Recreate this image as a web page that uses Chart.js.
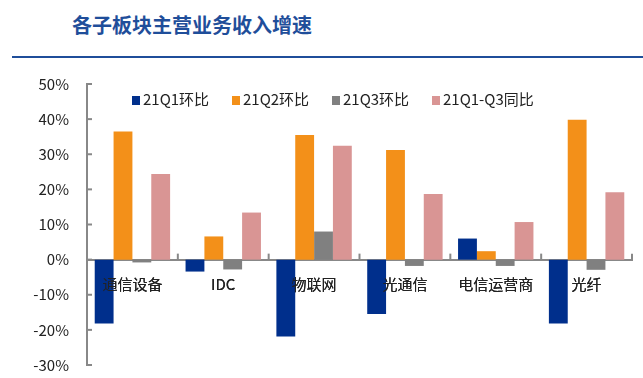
<!DOCTYPE html>
<html lang="zh">
<head>
<meta charset="UTF-8" />
<title>各子板块主营业务收入增速</title>
<script src="https://cdn.jsdelivr.net/npm/chart.js"></script>
<style>
  body { margin: 0; background: #fff; font-family: "Noto Sans CJK SC", sans-serif; }
  .wrap { position: relative; width: 643px; height: 378px; overflow: hidden; }
  .title {
    position: absolute; left: 72px; top: 10px;
    font-size: 20px; font-weight: bold; color: #1f4e9a;
  }
  .rule { position: absolute; left: 12px; right: 0; top: 56px; height: 2px; background: #1f4e9a; }
  canvas { position: absolute; left: 0; top: 0; }
  .legend { position: absolute; top: 88px; left: 0; font-size: 15px; color: #222; }
  .legend span.item { position: absolute; white-space: nowrap; }
  .legend i { display: inline-block; width: 8px; height: 9px; margin-right: 3px; vertical-align: 0px; }
</style>
</head>
<body>
<div class="wrap">
  <div class="title">各子板块主营业务收入增速</div>
  <div class="rule"></div>
  <canvas id="growthChart" width="643" height="392"></canvas>
  <div class="legend" id="legend"></div>
</div>

<script>
  const categories = ['通信设备', 'IDC', '物联网', '光通信', '电信运营商', '光纤'];
  const q1Qoq = [-18.2, -3.4, -21.9, -15.5, 6.0, -18.2];
  const q2Qoq = [36.5, 6.6, 35.5, 31.2, 2.4, 39.8];
  const q3Qoq = [-0.8, -2.8, 8.0, -1.8, -1.8, -2.9];
  const q1q3Yoy = [24.4, 13.4, 32.4, 18.7, 10.7, 19.2];
  const seriesNames = ['21Q1环比', '21Q2环比', '21Q3环比', '21Q1-Q3同比'];
  const seriesColors = ['#002f8c', '#f39019', '#808080', '#d99594'];
  const legendLeft = [132, 232, 332, 432];

  // legend as html, sits inside the plot like the original
  const legendEl = document.getElementById('legend');
  seriesNames.forEach((name, i) => {
    const s = document.createElement('span');
    s.className = 'item';
    s.style.left = legendLeft[i] + 'px';
    s.innerHTML = '<i style="background:' + seriesColors[i] + '"></i>' + name;
    legendEl.appendChild(s);
  });

  // category labels go on top of the bars, plus short inward tick marks
  const axisOnTop = {
    id: 'axisOnTop',
    afterDatasetsDraw(chart) {
      chart.scales.x.drawLabels(chart.chartArea);
    },
    afterDraw(chart) {
      const { ctx, scales: { x, y } } = chart;
      ctx.save();
      ctx.strokeStyle = '#888';
      ctx.lineWidth = 2;
      y.ticks.forEach((t, i) => {
        const py = y.getPixelForTick(i);
        ctx.beginPath(); ctx.moveTo(x.left, py); ctx.lineTo(x.left + 5, py); ctx.stroke();
      });
      const zero = y.getPixelForValue(0);
      const w = (x.right - x.left) / categories.length;
      for (let i = 1; i <= categories.length; i++) {
        const px = x.left + i * w;
        ctx.beginPath(); ctx.moveTo(px, zero); ctx.lineTo(px, zero - 6); ctx.stroke();
      }
      ctx.restore();
    }
  };

  const data = [q1Qoq, q2Qoq, q3Qoq, q1q3Yoy];

  new Chart(document.getElementById('growthChart'), {
    type: 'bar',
    data: {
      labels: categories,
      datasets: data.map((d, i) => ({
        label: seriesNames[i],
        data: d,
        backgroundColor: seriesColors[i],
        categoryPercentage: 0.83,
        barPercentage: 1.0
      }))
    },
    options: {
      responsive: false,
      animation: false,
      layout: { padding: { left: 0, right: 11, top: 84, bottom: 0 } },
      plugins: { legend: { display: false }, tooltip: { enabled: false } },
      scales: {
        x: {
          position: { y: 0 },
          grid: { display: false, drawTicks: false },
          border: { display: true, color: '#888', width: 2 },
          ticks: {
            padding: 16,
            color: '#222',
            font: { family: 'Noto Sans CJK SC', size: 15 }
          }
        },
        y: {
          min: -30,
          max: 50,
          afterFit(s) { s.width = 87; },
          grid: { display: false, drawTicks: false },
          border: { display: true, color: '#888', width: 2 },
          ticks: {
            stepSize: 10,
            padding: 18,
            color: '#222',
            font: { family: 'Noto Sans CJK SC', size: 15 },
            callback: v => v + '%'
          }
        }
      }
    },
    plugins: [axisOnTop]
  });
</script>
</body>
</html>
